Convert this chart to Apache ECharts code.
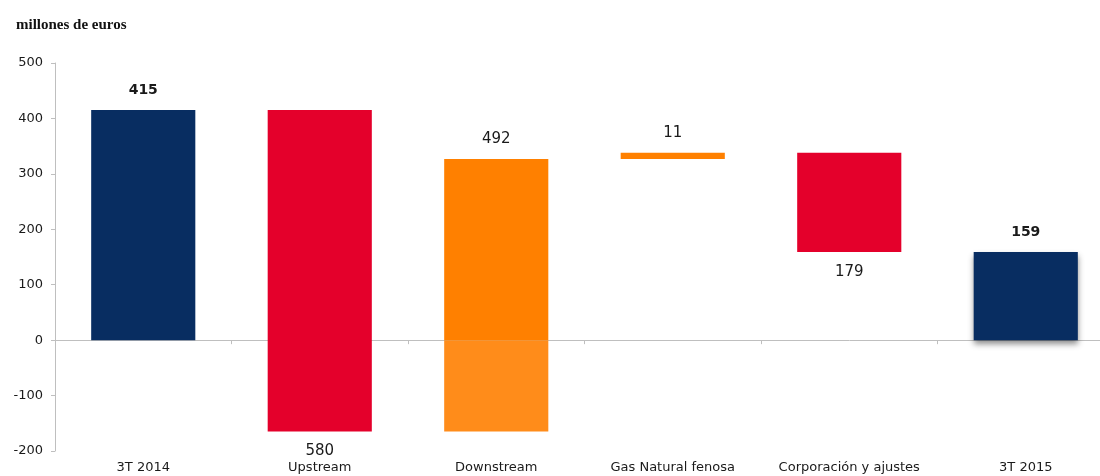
<!DOCTYPE html>
<html>
<head>
<meta charset="utf-8">
<script src="https://cdn.jsdelivr.net/npm/echarts@6/dist/echarts.min.js"></script>
<style>
  html, body { margin: 0; padding: 0; background: #fff; overflow: hidden; width: 1100px; height: 476px; }
  #chart { width: 1114px; height: 476px; }
</style>
</head>
<body>
<div id="chart"></div>
<script>
// datos (millones de euros)
const categories = ['3T 2014', 'Upstream', 'Downstream', 'Gas Natural fenosa', 'Corporación y ajustes', '3T 2015']
const changes = [415, -580, 492, 11, -179, 159]
const isTotal = [true, false, false, false, false, true]
const yTicks = [-200, -100, 0, 100, 200, 300, 400, 500]

// colores por categoria
const barColors = ['#082D61', '#E4002B', '#FF8000', '#FF8000', '#E4002B', '#082D61']
const belowZeroColors = ['#082D61', '#E4002B', '#FF8C1A', '#FF8C1A', '#E4002B', '#082D61']

// tramo [desde, hasta] de cada barra
let running = 0
const spans = categories.map((c, i) => {
  if (isTotal[i]) {
    running = changes[i]
    return [0, changes[i]]
  }
  const from = running
  running += changes[i]
  return [from, running]
})
const seriesData = spans.map((s, i) => [i, s[0], s[1], Math.abs(changes[i])])

const chart = echarts.init(document.getElementById('chart'))

const renderItem = (params, api) => {
  const idx = api.value(0)
  const lo = Math.min(api.value(1), api.value(2))
  const hi = Math.max(api.value(1), api.value(2))
  const w = api.size([1, 0])[0] * 0.59
  const pTop = api.coord([idx, hi])
  const pBot = api.coord([idx, lo])
  const pZero = api.coord([idx, 0])
  const x = pTop[0] - w / 2
  const children = []
  const total = isTotal[idx]
  const shadow = idx === categories.length - 1
    ? { shadowBlur: 6, shadowOffsetY: 4, shadowColor: 'rgba(0,0,0,0.45)' } : {}
  if (lo < 0 && hi > 0 && belowZeroColors[idx] !== barColors[idx]) {
    children.push({ type: 'rect', shape: { x: x, y: pTop[1], width: w, height: pZero[1] - pTop[1] }, style: { fill: barColors[idx] } })
    children.push({ type: 'rect', shape: { x: x, y: pZero[1], width: w, height: pBot[1] - pZero[1] }, style: { fill: belowZeroColors[idx] } })
  } else {
    children.push({ type: 'rect', shape: { x: x, y: pTop[1], width: w, height: Math.max(pBot[1] - pTop[1], 1) }, style: Object.assign({ fill: barColors[idx] }, shadow) })
  }
  const up = changes[idx] >= 0
  children.push({
    type: 'text',
    x: pTop[0],
    y: up ? pTop[1] - 20 : pBot[1] + 20,
    style: {
      text: String(api.value(3)),
      fill: '#1a1a1a',
      font: (total ? 'bold 14px' : '15px') + ' "DejaVu Sans", sans-serif',
      align: 'center',
      verticalAlign: 'middle'
    }
  })
  return { type: 'group', children: children }
}

const option = {
  animation: false,
  title: {
    text: 'millones de euros',
    left: 11,
    top: 13,
    textStyle: { fontFamily: '"Liberation Serif", serif', fontWeight: 'bold', fontSize: 15, color: '#111' }
  },
  grid: { left: 55, top: 63, bottom: 25, right: 0, containLabel: false },
  xAxis: [
    {
      type: 'category',
      data: categories,
      position: 'bottom',
      axisLine: { show: false, onZero: false },
      axisTick: { show: false },
      axisLabel: { margin: 10, color: '#1a1a1a', fontSize: 13, fontFamily: '"DejaVu Sans", sans-serif', interval: 0 }
    },
    {
      type: 'category',
      data: categories,
      position: 'bottom',
      axisLine: { show: true, onZero: true, lineStyle: { color: '#bfbfbf', width: 1 } },
      axisTick: { show: true, length: 4, lineStyle: { color: '#bfbfbf' } },
      axisLabel: { show: false }
    }
  ],
  yAxis: {
    type: 'value',
    min: yTicks[0],
    max: yTicks[yTicks.length - 1],
    interval: 100,
    axisLine: { show: true, lineStyle: { color: '#bfbfbf' } },
    axisTick: { show: true, length: 4, lineStyle: { color: '#bfbfbf' } },
    splitLine: { show: false },
    axisLabel: { margin: 12, color: '#1a1a1a', fontSize: 13, fontFamily: '"DejaVu Sans", sans-serif' }
  },
  series: [
    {
      type: 'custom',
      xAxisIndex: 0,
      renderItem: renderItem,
      encode: { x: 0, y: [1, 2] },
      data: seriesData
    }
  ]
}
chart.setOption(option)
</script>
</body>
</html>
